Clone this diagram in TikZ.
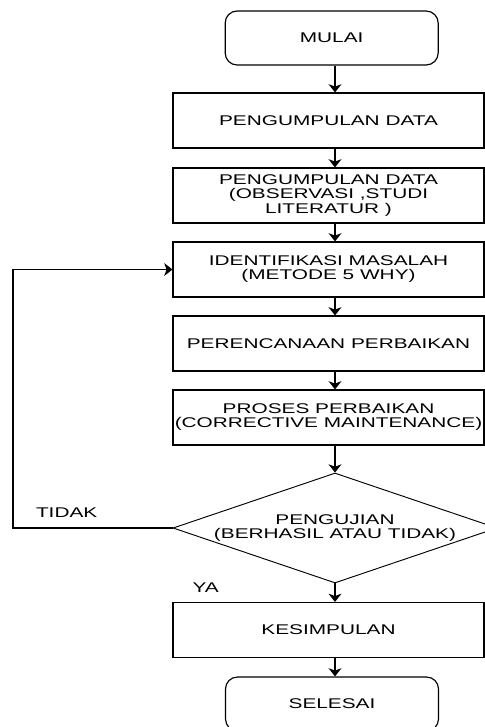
\documentclass[tikz,border=0pt]{standalone}
\usepackage{fontspec}
\setmainfont{Liberation Sans}[FakeStretch=1.48]
\usetikzlibrary{shapes.geometric,arrows.meta}

\begin{document}
\begin{tikzpicture}[
        font=\fontsize{12}{12}\selectfont,
        proc/.style={draw, rectangle, line width=1pt, minimum width=9.33cm, minimum height=1.65cm, align=center, inner sep=0pt},
        term/.style={draw, rectangle, rounded corners=0.36cm, line width=1pt, minimum width=6.39cm, minimum height=1.62cm},
        arr/.style={-{Stealth[length=7pt, width=11pt, inset=2pt]}, line width=1pt}
    ]
        \useasboundingbox (0,0) rectangle (14.55,-21.81);

        % Start
        \node[term] (mulai) at (9.95,-1.14) {MULAI};

        % Process steps
        \node[proc] (p1) at (9.855,-3.615) {PENGUMPULAN DATA};
        \node[proc] (p2) at (9.855,-5.865) {PENGUMPULAN DATA\\(OBSERVASI ,STUDI\\LITERATUR )};
        \node[proc] (p3) at (9.855,-8.085) {IDENTIFIKASI MASALAH\\(METODE 5 WHY)};
        \node[proc] (p4) at (9.855,-10.305) {PERENCANAAN PERBAIKAN};
        \node[proc] (p5) at (9.855,-12.525) {PROSES PERBAIKAN\\(CORRECTIVE MAINTENANCE)};

        % Decision
        \node[draw, diamond, minimum width=9.72cm, minimum height=3.3cm, inner sep=0pt, line width=0.8pt] (uji) at (10.05,-15.84) {};
        \node[align=center] (ujitxt) at (uji.center) {PENGUJIAN\\(BERHASIL ATAU TIDAK)};
        \node (tidak) at (2.0,-15.39) {TIDAK};
        \node (ya) at (6.17,-17.64) {YA};

        % End
        \node[proc] (p6) at (9.855,-18.9) {KESIMPULAN};
        \node[term] (selesai) at (9.96,-21.12) {SELESAI};

        % Arrows
        \draw[arr] (mulai.south -| uji) -- (p1.north -| uji);
        \draw[arr] (p1.south -| uji) -- (p2.north -| uji);
        \draw[arr] (p2.south -| uji) -- (p3.north -| uji);
        \draw[arr] (p3.south -| uji) -- (p4.north -| uji);
        \draw[arr] (p4.south -| uji) -- (p5.north -| uji);
        \draw[arr] (p5.south -| uji) -- (uji.north);
        \draw[arr] (uji.south) -- (p6.north -| uji);
        \draw[arr] (p6.south -| uji) -- (selesai.north -| uji);

        % Loop back
        \coordinate (back) at (0.39,-15.84);
        \draw[arr] (uji.west) -- (back) |- (p3.west);
    \end{tikzpicture}
\end{document}
